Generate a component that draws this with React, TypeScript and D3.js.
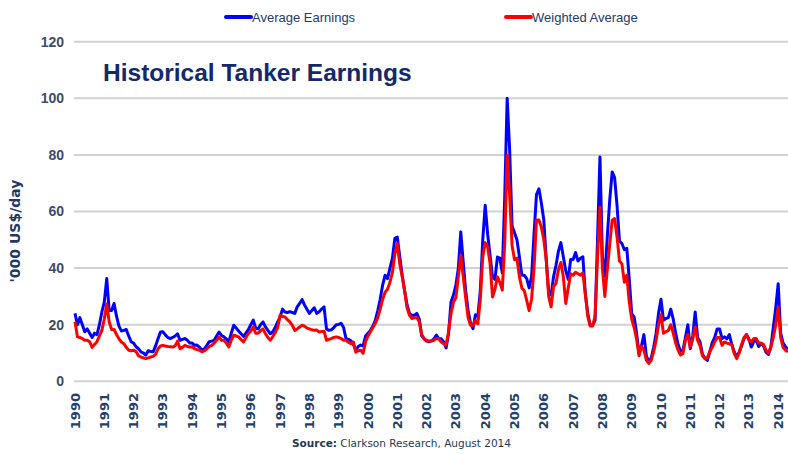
import { scaleLinear, line, curveLinear } from "d3"

// monthly values, Jan 1990 - May 2014, '000 US$/day
const startYear = 1990
const averageEarnings = [
  24, 20, 22.5, 20, 17.5, 18.5, 17, 15.5, 17, 16.5, 20, 24.5,
  28, 36.3, 25, 25, 27.5, 23, 19.5, 17.8, 18, 18.3, 16, 14,
  13.5, 12.2, 11.5, 10.4, 10, 9.3, 10.8, 10.5, 10.4, 12.5, 15, 17.4,
  17.5, 16.4, 15.5, 15.1, 15.5, 16, 16.8, 14.5, 14.8, 15.1, 14.5, 13.5,
  13.5, 12.7, 12.8, 12, 11, 11.5, 12.7, 14, 14.2, 14.5, 16, 17.4,
  16.2, 15.7, 15, 13.9, 17, 19.8, 18.8, 17.8, 16.8, 15.9, 17, 18.3,
  20, 21.6, 18.8, 18.5, 20, 21, 19.2, 18, 16.8, 17.5, 19, 21,
  22.7, 25.5, 24.5, 24.3, 24.6, 24.3, 24, 26.3, 27.5, 28.9, 27, 25.5,
  24, 25, 26, 24, 24.6, 25.5, 26.3, 18.5, 18, 18.2, 19, 20,
  20.1, 20.5, 19, 15.1, 14.8, 14.3, 13, 11, 12.3, 12.8, 12.5, 16,
  17, 18, 19.5, 21.5, 25, 29, 34, 37.5, 36.3, 40, 43.5, 50.5,
  51, 44, 37.5, 32, 27, 24, 23.3, 23.3, 24, 22, 16, 15,
  14.2, 14, 14.3, 15, 16.3, 15.1, 15, 13.9, 11.8, 17, 28, 30.5,
  34, 40, 52.8, 42, 32, 25, 20.5, 18.6, 23.5, 23, 32, 50,
  62.2, 52, 44.5, 36.8, 36, 43.9, 43.5, 38.3, 65, 100, 82, 55,
  52.5, 50, 44, 37.5, 37.5, 36.3, 33, 37, 52, 66, 68, 63,
  57, 43, 31.5, 30.5, 37, 41, 46, 49, 44, 39, 36, 43,
  43, 45.5, 42.5, 43.5, 44, 31, 24, 19.8, 19.8, 21.6, 50, 79.3,
  44, 37, 51, 64, 74, 72, 62, 49.5, 48.7, 46.5, 47, 36,
  23.9, 22.7, 17, 10, 12.5, 16.5, 9, 7, 8.3, 12, 17, 24,
  29, 21.6, 22.2, 22.5, 25.5, 22, 17, 13, 10.6, 11, 15.5, 20,
  11.5, 16, 24.5, 15.5, 13.9, 9.5, 8.2, 7.4, 10.5, 13.7, 15.5, 18.5,
  18.5, 15.1, 15.7, 15, 16.5, 13, 10.4, 8.6, 10.3, 12.5, 15, 16.5,
  15, 12.1, 14, 14.5, 12.3, 13.3, 12.5, 10.3, 9.5, 12.1, 19, 26,
  34.5, 17, 13.5, 12.2, 11.3,
]
const weightedAverage = [
  21, 15.7, 15.5, 15.1, 14.5, 14.5, 14, 12, 13, 14, 16, 18,
  22, 27.4, 21, 18.3, 18.3, 16.5, 15, 13.9, 13.3, 12, 11, 10.8,
  11, 10.5, 9, 8.6, 8.3, 8, 8.3, 8.6, 8.8, 9.5, 11.5, 12.5,
  12.7, 12.5, 12.3, 12.2, 12.1, 12.5, 14.2, 11.5, 12, 12.7, 12.3, 12.1,
  12.2, 11.5, 11.2, 11, 10.4, 10.8, 11.5, 12.3, 12.7, 13.5, 14.5, 15.7,
  14.5, 14.5, 13.5, 12.1, 14.5, 16.3, 16, 15.7, 14.8, 13.9, 15.5, 16.8,
  17.8, 19.2, 17, 17, 17.8, 18.5, 16.8, 15.5, 14.5, 15.8, 17.2, 19,
  23.3, 22.9, 22.7, 21.8, 21, 19.8, 18, 18.5, 19.2, 19.8, 19.5, 18.8,
  18.5, 18.2, 18, 18.1, 17.4, 17.6, 17.7, 14.5, 14.8, 15.1, 15.5, 15.7,
  15.5, 15.1, 14.5, 14.5, 13.8, 13.3, 13.9, 10.3, 10.8, 11, 9.9, 14,
  16, 17.5, 19, 20.5, 22.5, 25.5, 29, 31.5, 32.5, 35, 38.5, 45,
  48.7, 41.5, 37, 32, 26, 23.3, 22.2, 22.5, 22.5, 21, 16.5, 15,
  14.5, 14.2, 14.2, 14.5, 15.1, 15, 13.9, 13.3, 12.7, 17.5, 24, 28,
  29.5, 37, 44.5, 37, 29.5, 22.5, 19.8, 19.8, 21.5, 20.3, 29, 44,
  49, 47.5, 41.6, 29.8, 32.5, 36.9, 35, 32.2, 49, 79.9, 66, 48,
  43, 43.5, 37, 33, 32, 28.6, 25, 29, 40, 57, 57, 54.5,
  50, 43, 30, 26.3, 33.5, 34.6, 39.5, 42, 36.9, 27.5, 33, 38,
  37.5, 38.5, 38, 37.5, 38.3, 31, 23, 19.5, 19.5, 23, 44, 61.6,
  40, 30, 39.5, 48.5, 56.9, 57.5, 51, 42.5, 41.5, 35, 37.5, 28,
  22, 19, 15, 9, 12.5, 11, 7.5, 6.3, 7.5, 10.5, 14.5, 20,
  23.5, 17, 17.5, 18, 20, 17, 13.5, 11, 9.3, 9.8, 14.5, 16.5,
  12, 15, 19.2, 14.5, 12.5, 9, 8, 8.3, 10.5, 12, 14, 15.5,
  15.5, 12.7, 13.9, 13.5, 13.2, 13, 9.8, 8, 10, 13, 15.5, 16.5,
  14.5, 13.9, 15.1, 15.1, 13.5, 13.5, 13, 11, 10, 12.1, 15.5, 20,
  26.3, 15.5, 12, 11, 10.4,
]
const yearLabels = Array.from({ length: 25 }, (_, i) => String(startYear + i))
const yTicks = [0, 20, 40, 60, 80, 100, 120]
const seriesNames = ["Average Earnings", "Weighted Average"]

const W = 788
const H = 454
const navy = "#233f6e"

export default function App() {
  const x = scaleLinear().domain([1990, 2014]).range([75, 778.2])
  const y = scaleLinear().domain([0, 120]).range([381.3, 41.7])

  const path = line<number>()
    .x((_, i) => x(startYear + i / 12))
    .y((d) => y(d))
    .curve(curveLinear)

  return (
    <svg
      width={W}
      height={H}
      style={{ position: "absolute", left: 0, top: 0, background: "#fff" }}
    >
      {/* grid */}
      {yTicks.map((t) => (
        <g key={t}>
          <line x1={74} x2={W} y1={y(t)} y2={y(t)} stroke="#d2d2d2" strokeWidth={2} />
          <text
            x={64}
            y={y(t)}
            dy="0.35em"
            textAnchor="end"
            fontFamily="Liberation Sans, Arial, sans-serif"
            fontWeight="bold"
            fontSize={14}
            fill="#3c4b6c"
          >
            {t}
          </text>
        </g>
      ))}

      {/* title */}
      <text
        x={103}
        y={81}
        fontFamily="Liberation Sans, Arial, sans-serif"
        fontWeight="bold"
        fontSize={24.5}
        fill="#13296b"
      >
        Historical Tanker Earnings
      </text>

      {/* series */}
      <path d={path(averageEarnings) ?? ""} fill="none" stroke="#0000ff" strokeWidth={3} strokeLinejoin="round" />
      <path d={path(weightedAverage) ?? ""} fill="none" stroke="#ff0000" strokeWidth={3} strokeLinejoin="round" />

      {/* legend */}
      {seriesNames.map((name, i) => {
        const lx = i === 0 ? 226 : 506
        return (
          <g key={name}>
            <line x1={lx} x2={lx + 25} y1={17} y2={17} stroke={i === 0 ? "#0000ff" : "#ff0000"} strokeWidth={4} strokeLinecap="round" />
            <text
              x={lx + 26}
              y={17}
              dy="0.35em"
              fontFamily="Liberation Sans, Arial, sans-serif"
              fontSize={13}
              fill="#25396b"
            >
              {name}
            </text>
          </g>
        )
      })}

      {/* x labels */}
      {yearLabels.map((yr) => (
        <text
          key={yr}
          transform={`translate(${x(+yr)},393) rotate(-90)`}
          dy="0.35em"
          textAnchor="end"
          fontFamily="DejaVu Sans, Verdana, sans-serif"
          fontWeight="bold"
          fontSize={13}
          fill={navy}
        >
          {yr}
        </text>
      ))}

      {/* y title */}
      <text
        transform="translate(15,231) rotate(-90)"
        dy="0.35em"
        textAnchor="middle"
        fontFamily="DejaVu Sans, Verdana, sans-serif"
        fontWeight="bold"
        fontSize={14}
        fill="#1f3864"
      >
        '000 US$/day
      </text>

      {/* source */}
      <text x={292} y={447} fontFamily="DejaVu Sans, Verdana, sans-serif" fontSize={10.5} fill="#1d3a57">
        <tspan fontWeight="bold">Source:</tspan>
        <tspan> Clarkson Research, August 2014</tspan>
      </text>
    </svg>
  )
}
